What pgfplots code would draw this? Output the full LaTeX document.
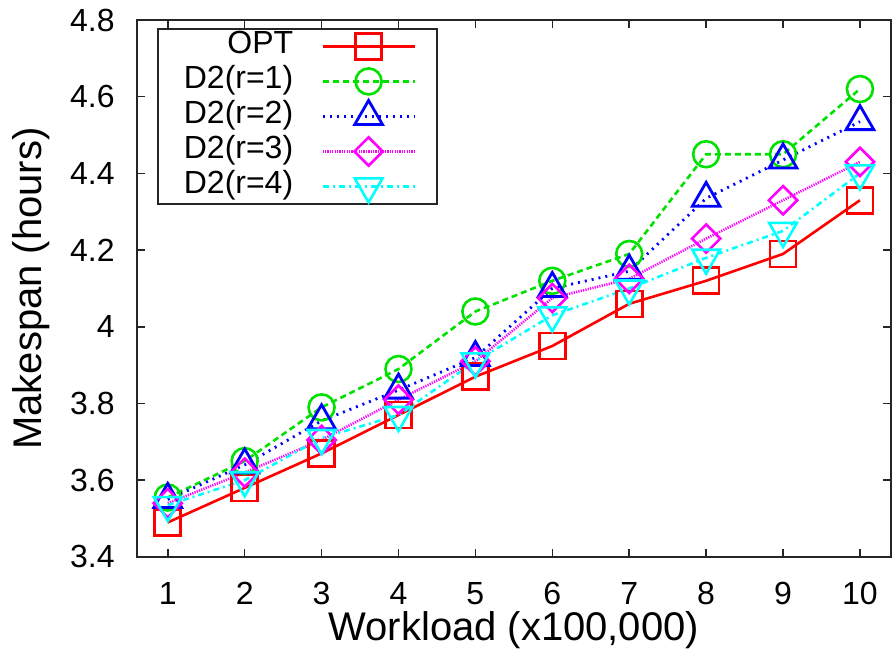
\documentclass[border=0pt]{standalone}
\usepackage{fontspec}
\setmainfont{Liberation Sans}
\usepackage{pgfplots}
\pgfplotsset{compat=1.18}
\definecolor{cRed}{RGB}{255,0,0}
\definecolor{cGreen}{RGB}{0,225,0}
\definecolor{cBlue}{RGB}{0,0,255}
\definecolor{cMag}{RGB}{255,0,255}
\definecolor{cCyan}{RGB}{0,255,255}
\begin{document}
\begin{tikzpicture}
\begin{axis}[
  name=ax,
  scale only axis,
  width=376.9pt, height=268.5pt,
  xmin=0.6, xmax=10.4,
  ymin=3.4, ymax=4.8,
  xtick={1,2,3,4,5,6,7,8,9,10},
  ytick={3.4,3.6,3.8,4,4.2,4.4,4.6,4.8},
  tick align=inside,
  major tick length=4pt,
  axis line style={line width=0.9pt, black!85},
  every tick/.style={line width=0.8pt, black!85},
  /pgf/number format/assume math mode=true,
  ticklabel style={font=\fontsize{16}{18}\selectfont},
  yticklabel style={anchor=east, inner xsep=0pt, xshift=-11pt},
  xticklabel style={anchor=base, yshift=-24pt},
  xlabel={Workload (x100,000)},
  ylabel={Makespan (hours)},
  every axis x label/.style={at={(axis description cs:0.5,-0.137)}, anchor=center, font=\fontsize{20}{22}\selectfont},
  every axis y label/.style={at={(axis description cs:-0.1406,0.5)}, anchor=center, rotate=90, font=\fontsize{20}{22}\selectfont},
  legend plot pos=right,
  legend cell align=right,
  legend image code/.code={\draw[mark repeat=2,mark phase=2] plot coordinates {(0pt,0pt) (23pt,0pt) (46pt,0pt)}; \path (56.5pt,0pt);},
  legend style={at={(0.0265,0.985)}, anchor=north west, draw=black!85, line width=0.9pt,
    inner xsep=0pt, inner ysep=0pt, column sep=14pt,
    font=\fontsize{16}{18}\selectfont,
    nodes={inner xsep=0pt, inner ysep=0pt, text height=12.5pt, text depth=5pt}},
  legend columns=1,
]
\addplot[cRed, line width=1.3pt, mark=square, mark size=6.5pt, mark options={solid}]
  coordinates {(1,3.49) (2,3.58) (3,3.67) (4,3.77) (5,3.87) (6,3.95) (7,4.06) (8,4.12) (9,4.19) (10,4.33)};
\addlegendentry{OPT}
\addplot[cGreen, line width=1.3pt, dash pattern=on 3pt off 2pt, mark=o, mark size=6.5pt, mark options={solid}]
  coordinates {(1,3.555) (2,3.65) (3,3.79) (4,3.89) (5,4.04) (6,4.12) (7,4.19) (8,4.45) (9,4.45) (10,4.62)};
\addlegendentry{\hspace*{13pt}D2(r=1)}
\addplot[cBlue, line width=1.4pt, dash pattern=on 1pt off 2.5pt, mark=triangle, mark size=8pt, mark options={solid}]
  coordinates {(1,3.55) (2,3.64) (3,3.755) (4,3.835) (5,3.92) (6,4.10) (7,4.145) (8,4.335) (9,4.435) (10,4.535)};
\addlegendentry{\hspace*{13pt}D2(r=2)}
\addplot[cMag, line width=1.3pt, dash pattern=on 0.6pt off 0.6pt, mark=square, mark size=5pt, mark options={solid, rotate=45}]
  coordinates {(1,3.54) (2,3.62) (3,3.705) (4,3.81) (5,3.91) (6,4.075) (7,4.125) (8,4.23) (9,4.33) (10,4.43)};
\addlegendentry{\hspace*{13pt}D2(r=3)}
\addplot[cCyan, line width=1.3pt, dash pattern=on 3pt off 2pt on 1pt off 2pt, mark=triangle, mark size=8pt, mark options={solid, rotate=180}]
  coordinates {(1,3.535) (2,3.60) (3,3.71) (4,3.77) (5,3.91) (6,4.03) (7,4.10) (8,4.18) (9,4.25) (10,4.40)};
\addlegendentry{\hspace*{13pt}D2(r=4)}
\end{axis}
\path (ax.south west) ++(-68.5pt,-49.5pt) (ax.north east) ++(0.65pt,10pt);
\end{tikzpicture}
\end{document}
